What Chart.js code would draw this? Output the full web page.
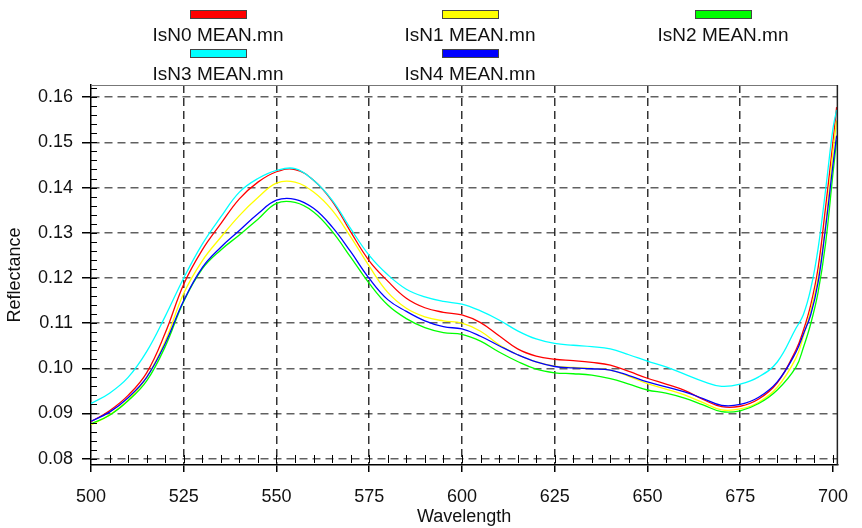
<!DOCTYPE html>
<html><head><meta charset="utf-8">
<script src="https://cdn.jsdelivr.net/npm/chart.js@4.4.1/dist/chart.umd.min.js"></script>
<style>
html,body{margin:0;padding:0;background:#fff}
#wrap{width:862px;height:528px}
</style></head><body>
<div id="wrap"><canvas id="cv" width="862" height="528"></canvas></div>
<script>
(function(){
'use strict';

/* ---------------- data ---------------- */
const WL=[500,505,510,515,520,525,530,535,540,545,550,555,560,565,570,575,580,585,590,595,600,605,610,615,620,625,630,635,640,645,650,655,660,665,670,675,680,685,690,692,694,696,698,700,701];
const ISN0=[.0882,.0906,.0940,.0990,.1078,.1186,.1262,.1320,.1375,.1412,.1435,.1440,.1416,.1370,.1302,.1238,.1193,.1155,.1134,.1124,.1118,.1101,.1072,.1043,.1027,.1020,.1017,.1013,.1007,.0993,.0978,.0965,.0951,.0931,.0915,.0916,.0932,.0968,.1040,.1083,.1140,.1222,.1355,.1500,.1578];
const ISN1=[.0875,.0897,.0930,.0980,.1060,.1166,.1238,.1290,.1338,.1378,.1410,.1412,.1390,.1350,.1291,.1226,.1168,.1133,.1114,.1105,.1100,.1082,.1052,.1030,.1014,.1005,.1002,.1000,.0996,.0982,.0966,.0954,.0941,.0924,.0908,.0910,.0925,.0958,.1022,.1070,.1127,.1200,.1317,.1478,.1548];
const ISN2=[.0877,.0896,.0928,.0972,.1048,.1148,.1220,.1262,.1295,.1330,.1365,.1367,.1346,.1303,.1246,.1188,.1140,.1110,.1090,.1079,.1075,.1060,.1036,.1015,.0998,.0990,.0988,.0985,.0977,.0965,.0952,.0945,.0934,.0919,.0904,.0906,.0922,.0952,.1002,.1045,.1098,.1168,.1275,.1430,.1505];
const ISN3=[.0922,.0945,.0980,.1037,.1115,.1200,.1275,.1335,.1390,.1420,.1438,.1442,.1416,.1372,.1309,.1250,.1207,.1175,.1158,.1148,.1142,.1127,.1107,.1083,.1065,.1055,.1051,.1048,.1043,.1030,.1016,.1003,.0987,.0971,.0960,.0965,.0981,.1014,.1088,.1118,.1175,.1265,.1393,.1530,.1572];
const ISN4=[.0883,.0903,.0935,.0980,.1055,.1150,.1223,.1268,.1305,.1342,.1372,.1374,.1354,.1313,.1258,.1199,.1152,.1126,.1105,.1092,.1087,.1071,.1050,.1030,.1014,.1004,.1001,.0999,.0996,.0984,.0970,.0959,.0948,.0933,.0918,.0920,.0936,.0970,.1035,.1075,.1118,.1190,.1310,.1450,.1515];
const NAMES=["IsN0 MEAN.mn","IsN1 MEAN.mn","IsN2 MEAN.mn","IsN3 MEAN.mn","IsN4 MEAN.mn"];
const COLORS=["#ff0000","#ffff00","#00ff00","#00ffff","#0000ff"];
const X_TICKS=[500,525,550,575,600,625,650,675,700];
const Y_TICKS=[0.08,0.09,0.10,0.11,0.12,0.13,0.14,0.15,0.16];

const FONT="'Liberation Sans', Arial, sans-serif";

/* ---------------- legend: swatch above label, 3 columns ---------------- */
const LEG_COLS=[218,470,723], LEG_ROWS=[11,50];
const legend={id:"legend2",afterDraw(ch){
 const ctx=ch.ctx; ctx.save();
 ch.data.datasets.forEach((d,i)=>{
   const cx=LEG_COLS[i%3], ty=LEG_ROWS[Math.floor(i/3)];
   ctx.fillStyle=d.borderColor; ctx.fillRect(cx-27,ty,55,7);
   ctx.strokeStyle="#444"; ctx.lineWidth=1; ctx.strokeRect(cx-27.5,ty-.5,56,8);
   ctx.fillStyle="#111"; ctx.font="19px "+FONT; ctx.textAlign="center"; ctx.textBaseline="middle";
   ctx.fillText(d.label,cx,ty+25);
 });
 ctx.restore();
}};

/* ---------------- frame + minor ticks ---------------- */
const frame={id:"frame",afterDraw(ch){
 const {ctx,chartArea:a,scales:{x,y}}=ch;
 ctx.save();
 ctx.strokeStyle="#777"; ctx.lineWidth=1;
 ctx.beginPath(); ctx.moveTo(a.left,a.top+.5); ctx.lineTo(a.right,a.top+.5); ctx.stroke();
 ctx.strokeStyle="#222"; ctx.lineWidth=1.5;
 ctx.beginPath(); ctx.moveTo(a.right,a.top); ctx.lineTo(a.right,a.bottom); ctx.stroke();
 ctx.strokeStyle="#000"; ctx.lineWidth=1;
 for(let i=0;i<=41;i++){const py=Math.round(y.getPixelForValue(0.08+i*0.002))+.5;
   ctx.beginPath(); ctx.moveTo(a.left,py); ctx.lineTo(a.left+6,py); ctx.stroke();}
 const y8=Math.round(y.getPixelForValue(0.08));
 for(let i=1;i<=40;i++){const px=Math.round(x.getPixelForValue(500+i*5))+.5;
   ctx.beginPath(); ctx.moveTo(px,y8-4); ctx.lineTo(px,y8+4); ctx.stroke();}
 ctx.restore();
}};

/* ---------------- chart ---------------- */
const series=[ISN0,ISN1,ISN2,ISN3,ISN4];
const datasets=series.map((s,i)=>({
 label:NAMES[i], data:s.map((v,k)=>({x:WL[k],y:v})),
 borderColor:COLORS[i], backgroundColor:COLORS[i], borderWidth:1.3,
 pointRadius:0, tension:0.4, order:4-i
}));

new Chart(document.getElementById("cv"),{
 type:"line",
 data:{datasets},
 plugins:[legend,frame],
 options:{
  responsive:false, animation:false, devicePixelRatio:1,
  layout:{padding:{top:85,right:12,left:0,bottom:0}},
  plugins:{legend:{display:false},tooltip:{enabled:false}},
  scales:{
   x:{type:"linear",min:500,max:701.2,
    afterBuildTicks:s=>{s.ticks=X_TICKS.map(v=>({value:v}));},
    afterFit:s=>{s.height=63;},
    ticks:{color:"#111",font:{family:FONT,size:18},padding:14,maxRotation:0,autoSkip:false,callback:v=>String(v)},
    grid:{color:c=>(c.tick&&(c.tick.value===500||c.tick.value===700))?"rgba(0,0,0,0)":"rgba(0,0,0,.8)",
      lineWidth:1.5,tickLength:7,tickColor:"#000",tickWidth:1.5},
    border:{display:true,color:"#000",width:1.5,dash:[8,5]},
    title:{display:true,text:"Wavelength",color:"#111",font:{family:FONT,size:18},padding:{top:0,bottom:0}}
   },
   y:{type:"linear",min:0.0786,max:0.1627,
    afterBuildTicks:s=>{s.ticks=Y_TICKS.map(v=>({value:v}));},
    afterFit:s=>{s.width=91;},
    ticks:{color:"#111",font:{family:FONT,size:18},padding:9,callback:v=>v.toFixed(2)},
    grid:{color:"rgba(0,0,0,.62)",lineWidth:1.5,tickLength:9,tickColor:"#000",tickWidth:1.5},
    border:{display:true,color:"#000",width:1.5,dash:[8,5]},
    title:{display:true,text:"Reflectance",color:"#111",font:{family:FONT,size:18},padding:{top:4,bottom:0}}
   }
  }
 }
});
})();
</script>
</body></html>
